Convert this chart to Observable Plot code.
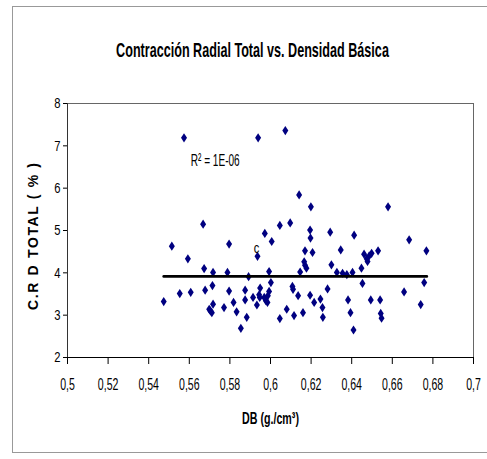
<!DOCTYPE html>
<html><head><meta charset="utf-8">
<script src="https://cdn.jsdelivr.net/npm/d3@7"></script>
<script src="https://cdn.jsdelivr.net/npm/@observablehq/plot@0.6"></script>
<style>
body{margin:0;background:#fff;}
#chart{width:487px;height:459px;}
</style></head><body><div id="chart"></div>
<script>
const densidad = [0.5474,0.5514,0.5553,0.5574,0.5593,0.5607,0.5668,0.5673,0.5678,0.5714,
0.5717,0.5717,0.5698,0.5711,0.5704,0.5771,0.5788,0.5796,0.5796,0.5818,
0.5833,0.5854,0.5875,0.5875,0.5883,0.5892,0.5914,0.5933,0.5936,0.5939,
0.5944,0.5949,0.5947,0.5969,0.5972,0.5977,0.5987,0.5993,0.5993,0.5985,
0.6002,0.6006,0.6046,0.6046,0.6073,0.6080,0.6097,0.6108,0.6111,0.6116,
0.6136,0.6141,0.6146,0.6160,0.6166,0.6170,0.6177,0.6170,0.6195,0.6197,
0.6199,0.6195,0.6207,0.6215,0.6246,0.6256,0.6258,0.6281,0.6294,0.6300,
0.6327,0.6346,0.6355,0.6376,0.6382,0.6394,0.6404,0.6409,0.6412,0.6448,
0.6453,0.6461,0.6474,0.6478,0.6486,0.6494,0.6498,0.6530,0.6540,0.6543,
0.6547,0.6579,0.6658,0.6683,0.6740,0.6757,0.6768];
const contraccion = [3.32,4.63,3.51,7.19,4.33,3.54,5.15,4.10,3.59,3.70,
4.01,3.26,3.14,3.06,3.10,3.18,4.01,4.68,3.57,3.30,
3.08,2.69,3.59,3.36,2.95,3.91,3.42,3.24,4.39,7.19,
3.48,3.64,3.42,3.42,4.93,3.34,3.46,4.03,3.56,3.30,
3.77,4.74,5.12,2.92,7.36,3.14,5.18,3.68,3.61,2.99,
3.46,5.84,4.02,3.06,4.26,4.18,4.11,4.52,5.01,4.82,
5.56,3.47,4.48,3.30,3.38,3.18,2.95,3.62,4.96,4.19,
4.01,4.54,3.99,3.96,3.36,3.06,4.01,2.65,4.89,4.11,
3.75,4.44,4.33,4.27,4.40,3.36,4.46,4.52,3.36,3.04,
2.93,5.56,3.55,4.78,3.25,3.77,4.52];
const trendX = [0.5474, 0.677];
const trendY = [3.915, 3.915];
const xTicks = [0.5,0.52,0.54,0.56,0.58,0.6,0.62,0.64,0.66,0.68,0.7];
const yTicks = [2,3,4,5,6,7,8];
const titulo = "Contracción Radial Total vs. Densidad Básica";
const tituloY = "C.R D TOTAL ( % )";
const tituloX = "DB (g./cm³)";
const etiquetaR2 = "R² = 1E-06";
const etiquetaC = "c";

const puntos = densidad.map((d, i) => ({x: d, y: contraccion[i]}));
const tendencia = trendX.map((d, i) => ({x: d, y: trendY[i]}));
const coma = d => String(d).replace(".", ",");

const diamond = {draw(ctx) {
  const w = 3, h = 4.6;
  ctx.moveTo(0, -h); ctx.lineTo(w, 0); ctx.lineTo(0, h); ctx.lineTo(-w, 0); ctx.closePath();
}};

const font = "'Liberation Sans', Arial, sans-serif";
const plot = Plot.plot({
  width: 487, height: 459,
  marginLeft: 67, marginRight: 14, marginTop: 103, marginBottom: 102,
  style: {fontFamily: font, background: "#fff", overflow: "visible", color: "#000"},
  x: {domain: [0.5, 0.7]},
  y: {domain: [2, 8]},
  marks: [
    Plot.frame({stroke: "#666"}),
    Plot.ruleY([2], {stroke: "#000"}),
    Plot.ruleX([0.5], {stroke: "#333"}),
    Plot.axisX({ticks: xTicks, tickFormat: coma, tickSize: 7, tickPadding: 14, fontSize: 16, label: null, stroke: "#000", strokeOpacity: 1}),
    Plot.axisY({ticks: yTicks, tickFormat: d => String(d), tickSize: 4, tickPadding: 3, fontSize: 15, label: null, stroke: "#000", strokeOpacity: 1}),
    Plot.dot(puntos, {x: "x", y: "y", symbol: diamond, fill: "#000080", stroke: "none"}),
    Plot.line(tendencia, {x: "x", y: "y", stroke: "#000", strokeWidth: 2.7}),
    Plot.text([titulo], {frameAnchor: "top", dx: -18, dy: -61, fontSize: 20, fontWeight: "bold"}),
    Plot.text([etiquetaR2], {x: () => 0.5607, y: () => 6.65, textAnchor: "start", fontSize: 17}),
    Plot.text([etiquetaC], {x: () => 0.5931, y: () => 4.58, fontSize: 14}),
    Plot.text([tituloY], {frameAnchor: "left", dx: -34, dy: 6, rotate: -90, textAnchor: "middle", fontSize: 14, fontWeight: "bold"}),
    Plot.text([tituloX], {frameAnchor: "bottom", dy: 66, fontSize: 17, fontWeight: "bold"})
  ]
});
document.getElementById("chart").appendChild(plot);

d3.select(plot).insert("rect", ":first-child")
  .attr("x", 12.5).attr("y", 6.5).attr("width", 490).attr("height", 446)
  .attr("fill", "none").attr("stroke", "#999");

const textos = Array.from(plot.querySelectorAll("text"));
// horizontal squeeze of the glyphs, as in the reference's narrow lettering
function squeeze(pred, target) {
  textos.filter(t => pred(t.textContent)).forEach(t => {
    const L = t.getComputedTextLength();
    const k = target < 2 ? target : target / L;
    const tr = t.getAttribute("transform") || "";
    t.setAttribute("transform", `${tr} scale(${k},1)`);
  });
}
squeeze(s => s.startsWith("0,") || s === "0", 0.66);
squeeze(s => yTicks.map(String).includes(s), 0.75);
squeeze(s => s === titulo, 273);
squeeze(s => s === etiquetaR2, 49);
squeeze(s => s === etiquetaC, 0.8);
squeeze(s => s === tituloX, 57);
textos.filter(t => t.textContent === tituloY).forEach(t => {
  t.setAttribute("textLength", 147);
  t.setAttribute("lengthAdjust", "spacing");
});
</script></body></html>
